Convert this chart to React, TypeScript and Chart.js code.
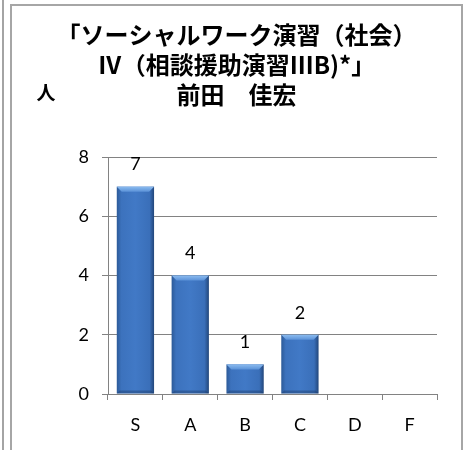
import React, { useEffect, useRef } from "react";
import { Chart, registerables } from "chart.js";

Chart.register(...registerables);

const categories = ["S", "A", "B", "C", "D", "F"];
const counts = [7, 4, 1, 2, 0, 0];
const yMin = 0;
const yMax = 8;
const yStep = 2;
const titleLines = ["「ソーシャルワーク演習（社会）", "Ⅳ（相談援助演習ⅢB)*」", "前田　佳宏"];
const yAxisLabel = "人";

const GRID = "#828282";
const LATIN = "Lato, 'Open Sans', sans-serif";
const CJK = "'Noto Sans CJK JP', sans-serif";

export default function App() {
  const ref = useRef<HTMLCanvasElement>(null);

  useEffect(() => {
    const canvas = ref.current!;

    const decorPlugin = {
      id: "decor",
      afterDatasetsDraw(chart: any) {
        const ctx = chart.ctx;
        const meta = chart.getDatasetMeta(0);
        ctx.save();
        meta.data.forEach((bar: any, i: number) => {
          const v = counts[i];
          const left = bar.x - bar.width / 2;
          const right = bar.x + bar.width / 2;
          const top = bar.y;
          const base = bar.base;
          const h = base - top;
          if (h <= 0) return;
          const g = ctx.createLinearGradient(left, 0, right, 0);
          g.addColorStop(0, "#2c5a98");
          g.addColorStop(0.12, "#3c72bd");
          g.addColorStop(0.5, "#4179c6");
          g.addColorStop(0.88, "#3a6fb9");
          g.addColorStop(1, "#22467a");
          ctx.fillStyle = g;
          ctx.fillRect(left, top, right - left, h);
          const bv = Math.min(5, h / 2);
          const tg = ctx.createLinearGradient(0, top, 0, top + bv);
          tg.addColorStop(0, "#8cbcf0");
          tg.addColorStop(1, "#5b92d8");
          ctx.fillStyle = tg;
          ctx.beginPath();
          ctx.moveTo(left, top);
          ctx.lineTo(right, top);
          ctx.lineTo(right - bv, top + bv);
          ctx.lineTo(left + bv, top + bv);
          ctx.closePath();
          ctx.fill();
          ctx.fillStyle = "rgba(20,45,85,0.35)";
          ctx.beginPath();
          ctx.moveTo(left, base);
          ctx.lineTo(right, base);
          ctx.lineTo(right - 3, base - 3);
          ctx.lineTo(left + 3, base - 3);
          ctx.closePath();
          ctx.fill();
          ctx.fillStyle = "#000";
          ctx.font = `18px ${LATIN}`;
          ctx.textAlign = "center";
          ctx.textBaseline = "middle";
          ctx.fillText(String(v), bar.x, top - 22);
        });
        ctx.restore();
      },
      afterDraw(chart: any) {
        const ctx = chart.ctx;
        ctx.save();
        ctx.fillStyle = "#000";
        ctx.textAlign = "center";
        ctx.textBaseline = "middle";
        ctx.font = `bold 24px ${CJK}`;
        titleLines.forEach((t, i) => ctx.fillText(t, 236.5, 35 + i * 30));
        ctx.font = `bold 19px ${CJK}`;
        ctx.fillText(yAxisLabel, 46, 93);
        ctx.restore();
      },
    };

    const chart = new Chart(canvas, {
      type: "bar",
      data: {
        labels: categories,
        datasets: [
          {
            data: counts,
            backgroundColor: "rgba(0,0,0,0)",
            borderWidth: 0,
            categoryPercentage: 1,
            barPercentage: 0.68,
          },
        ],
      },
      options: {
        responsive: false,
        animation: false,
        devicePixelRatio: 1,
        layout: { padding: { left: 11, right: 33, top: 157, bottom: 0 } },
        plugins: {
          legend: { display: false },
          tooltip: { enabled: false },
          title: { display: false },
        },
        scales: {
          x: {
            offset: true,
            grid: {
              offset: true,
              drawOnChartArea: false,
              drawTicks: true,
              tickLength: 6,
              color: GRID,
            },
            border: { color: GRID, width: 1 },
            ticks: { color: "#000", font: { family: LATIN, size: 18 }, padding: 14 },
            afterFit: (s: any) => {
              s.height = 56;
            },
          },
          y: {
            min: yMin,
            max: yMax,
            ticks: {
              stepSize: yStep,
              color: "#000",
              font: { family: LATIN, size: 18 },
              padding: 13,
            },
            grid: { color: GRID, tickLength: 6, drawTicks: true },
            border: { color: GRID, width: 1 },
            afterFit: (s: any) => {
              s.width = 97;
            },
          },
        },
      },
      plugins: [decorPlugin],
    });
    return () => chart.destroy();
  }, []);

  return (
    <div
      style={{
        position: "fixed",
        left: 0,
        top: 0,
        width: 470,
        height: 450,
        background: "#fff",
        overflow: "hidden",
      }}
    >
      <div style={{ position: "absolute", left: 2, top: 0, width: 2, height: 450, background: "#a4a4a4" }} />
      <div
        style={{
          position: "absolute",
          left: 10,
          top: 4,
          width: 453,
          height: 470,
          boxSizing: "border-box",
          border: "2px solid #a6a6a6",
        }}
      />
      <canvas
        ref={ref}
        width={470}
        height={450}
        style={{ position: "absolute", left: 0, top: 0, display: "block" }}
      />
    </div>
  );
}
